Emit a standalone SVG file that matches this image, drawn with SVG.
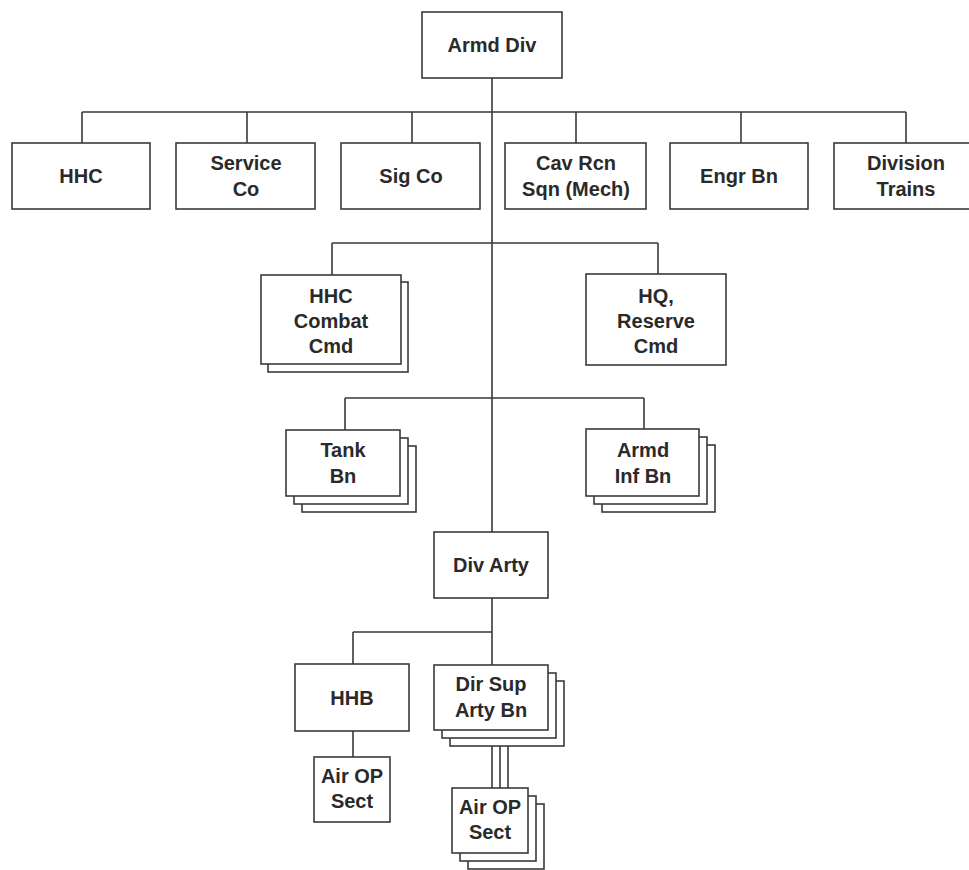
<svg xmlns="http://www.w3.org/2000/svg" width="969" height="870" viewBox="0 0 969 870">
<style>
.b{fill:#fff;stroke:#3a3a3a;stroke-width:1.6}
.c{fill:none;stroke:#3a3a3a;stroke-width:1.6}
.t{font-family:"Liberation Sans",Arial,sans-serif;font-weight:bold;font-size:20px;fill:#2a2a2a;text-anchor:middle}
</style>
<rect width="969" height="870" fill="#fff"/>
<g id="connectors">
<path class="c" d="M492 78V532M82 112H906M82 112V143M247 112V143M412 112V143M576 112V143M741 112V143M906 112V143"/>
<path class="c" d="M332 243H658M332 243V275M658 243V274"/>
<path class="c" d="M345 398H644M345 398V430M644 398V429"/>
<path class="c" d="M492 598V665M353 632H492M353 632V664M353 731V757"/>
<path class="c" d="M492 730V788M500 738V788M508 746V788"/>
</g>
<g id="armd-div"><rect class="b" x="422" y="12" width="140" height="66"/><text class="t" x="492" y="52">Armd Div</text></g>
<g id="hhc"><rect class="b" x="12" y="143" width="138" height="66"/><text class="t" x="81" y="183">HHC</text></g>
<g id="service-co"><rect class="b" x="176" y="143" width="139" height="66"/><text class="t" x="246" y="170">Service</text><text class="t" x="246" y="196">Co</text></g>
<g id="sig-co"><rect class="b" x="341" y="143" width="139" height="66"/><text class="t" x="411" y="183">Sig Co</text></g>
<g id="cav-rcn"><rect class="b" x="505" y="143" width="141" height="66"/><text class="t" x="576" y="170">Cav Rcn</text><text class="t" x="576" y="196">Sqn (Mech)</text></g>
<g id="engr-bn"><rect class="b" x="670" y="143" width="138" height="66"/><text class="t" x="739" y="183">Engr Bn</text></g>
<g id="division-trains"><rect class="b" x="834" y="143" width="144" height="66"/><text class="t" x="906" y="170">Division</text><text class="t" x="906" y="196">Trains</text></g>
<g id="hhc-combat-cmd"><rect class="b" x="268" y="282" width="140" height="90"/><rect class="b" x="261" y="275" width="140" height="89"/><text class="t" x="331" y="303">HHC</text><text class="t" x="331" y="328">Combat</text><text class="t" x="331" y="353">Cmd</text></g>
<g id="hq-reserve-cmd"><rect class="b" x="586" y="274" width="140" height="91"/><text class="t" x="656" y="303">HQ,</text><text class="t" x="656" y="328">Reserve</text><text class="t" x="656" y="353">Cmd</text></g>
<g id="tank-bn"><rect class="b" x="302" y="446" width="114" height="66"/><rect class="b" x="294" y="438" width="114" height="66"/><rect class="b" x="286" y="430" width="114" height="66"/><text class="t" x="343" y="457">Tank</text><text class="t" x="343" y="483">Bn</text></g>
<g id="armd-inf-bn"><rect class="b" x="602" y="445" width="113" height="67"/><rect class="b" x="594" y="437" width="113" height="67"/><rect class="b" x="586" y="429" width="113" height="67"/><text class="t" x="643" y="457">Armd</text><text class="t" x="643" y="483">Inf Bn</text></g>
<g id="div-arty"><rect class="b" x="434" y="532" width="114" height="66"/><text class="t" x="491" y="572">Div Arty</text></g>
<g id="hhb"><rect class="b" x="295" y="664" width="114" height="67"/><text class="t" x="352" y="705">HHB</text></g>
<g id="dir-sup-arty-bn"><rect class="b" x="450" y="681" width="114" height="65"/><rect class="b" x="442" y="673" width="114" height="65"/><rect class="b" x="434" y="665" width="114" height="65"/><text class="t" x="491" y="691">Dir Sup</text><text class="t" x="491" y="717">Arty Bn</text></g>
<g id="air-op-sect-1"><rect class="b" x="314" y="757" width="76" height="65"/><text class="t" x="352" y="783">Air OP</text><text class="t" x="352" y="808">Sect</text></g>
<g id="air-op-sect-2"><rect class="b" x="468" y="804" width="76" height="65"/><rect class="b" x="460" y="796" width="76" height="65"/><rect class="b" x="452" y="788" width="76" height="65"/><text class="t" x="490" y="814">Air OP</text><text class="t" x="490" y="839">Sect</text></g>
</svg>
